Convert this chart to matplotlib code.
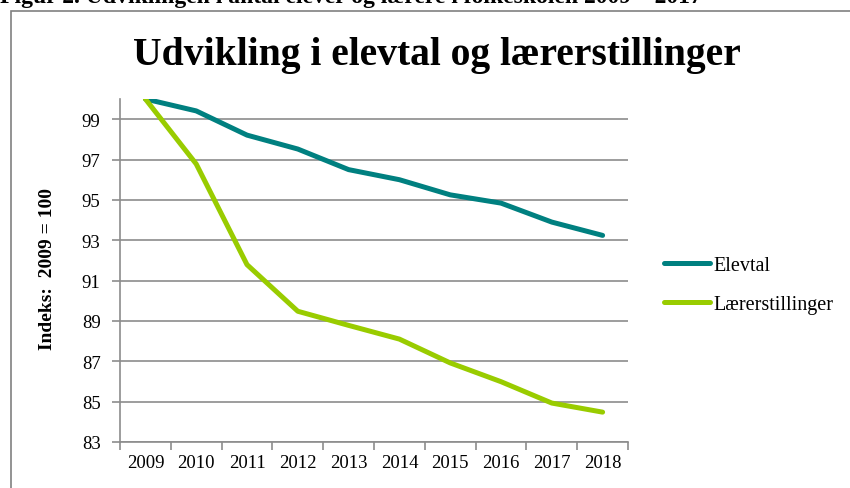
import matplotlib
matplotlib.use("Agg")
import matplotlib.pyplot as plt
from matplotlib.patches import Rectangle

years = ["2009", "2010", "2011", "2012", "2013", "2014", "2015", "2016", "2017", "2018"]
elevtal = [100, 99.41, 98.21, 97.52, 96.50, 96.0, 95.25, 94.84, 93.9, 93.24]
laerer = [100, 96.78, 91.79, 89.48, 88.78, 88.10, 86.92, 85.99, 84.93, 84.48]
yticks = [83, 85, 87, 89, 91, 93, 95, 97, 99]

title = "Udvikling i elevtal og lærerstillinger"
caption = "Figur 2. Udviklingen i antal elever og lærere i folkeskolen 2009 – 2017"
ylabel = "Indeks:  2009 = 100"

serif = ["Liberation Serif", "DejaVu Serif"]
plt.rcParams["font.family"] = serif

W, H = 850, 489
fig = plt.figure(figsize=(W / 100, H / 100), dpi=100)
grid_c = "#8c8c8c"

# frame
fig.patches.append(Rectangle((11 / W, -0.05), 1.2, 1 - 11.5 / H + 0.05, transform=fig.transFigure,
                             fill=False, edgecolor="#808080", linewidth=1.2))
fig.text(0.0, 1 - 3.5 / H, caption, ha="left", va="baseline", fontsize=17, fontweight="bold",
         color="black")

ax = fig.add_axes([120 / W, 1 - 443 / H, (628 - 120) / W, (443 - 100) / H])
x = list(range(len(years)))
ax.plot(x, elevtal, color="#008080", linewidth=3.6, solid_capstyle="round", label="Elevtal")
ax.plot(x, laerer, color="#99CC00", linewidth=3.6, solid_capstyle="round", label="Lærerstillinger")

ax.set_xlim(-0.5, len(years) - 0.5)
ax.set_ylim(83, 100)
ax.set_yticks(yticks)
ax.set_yticklabels([str(v) for v in yticks])
ax.yaxis.grid(True, color=grid_c, linewidth=1.2)
ax.set_axisbelow(True)

ax.set_xticks([i - 0.5 for i in range(len(years) + 1)])
ax.set_xticklabels([])
ax.set_xticks(x, minor=True)
ax.set_xticklabels(years, minor=True)
ax.tick_params(axis="x", which="major", length=6, color=grid_c, width=1.2, direction="out")
ax.tick_params(axis="x", which="minor", length=0, pad=9, labelsize=13.5)
ax.tick_params(axis="y", length=6, color=grid_c, width=1.2, pad=8, labelsize=13.5)

for s in ["top", "right"]:
    ax.spines[s].set_visible(False)
for s in ["left", "bottom"]:
    ax.spines[s].set_color(grid_c)
    ax.spines[s].set_linewidth(1.2)

fig.text(48 / W, 1 - 269 / H, ylabel, rotation=90, ha="center", va="center",
         fontsize=14, fontweight="bold")

fig.text(437 / W, 1 - 55 / H, title, ha="center", va="center", fontsize=28.5, fontweight="bold")

leg = fig.legend(loc="center left", bbox_to_anchor=(646 / W, 1 - 286 / H), frameon=False,
                 fontsize=14.5, handlelength=2.3, handletextpad=0.15, labelspacing=0.95)

fig.savefig("out.png", dpi=100)
